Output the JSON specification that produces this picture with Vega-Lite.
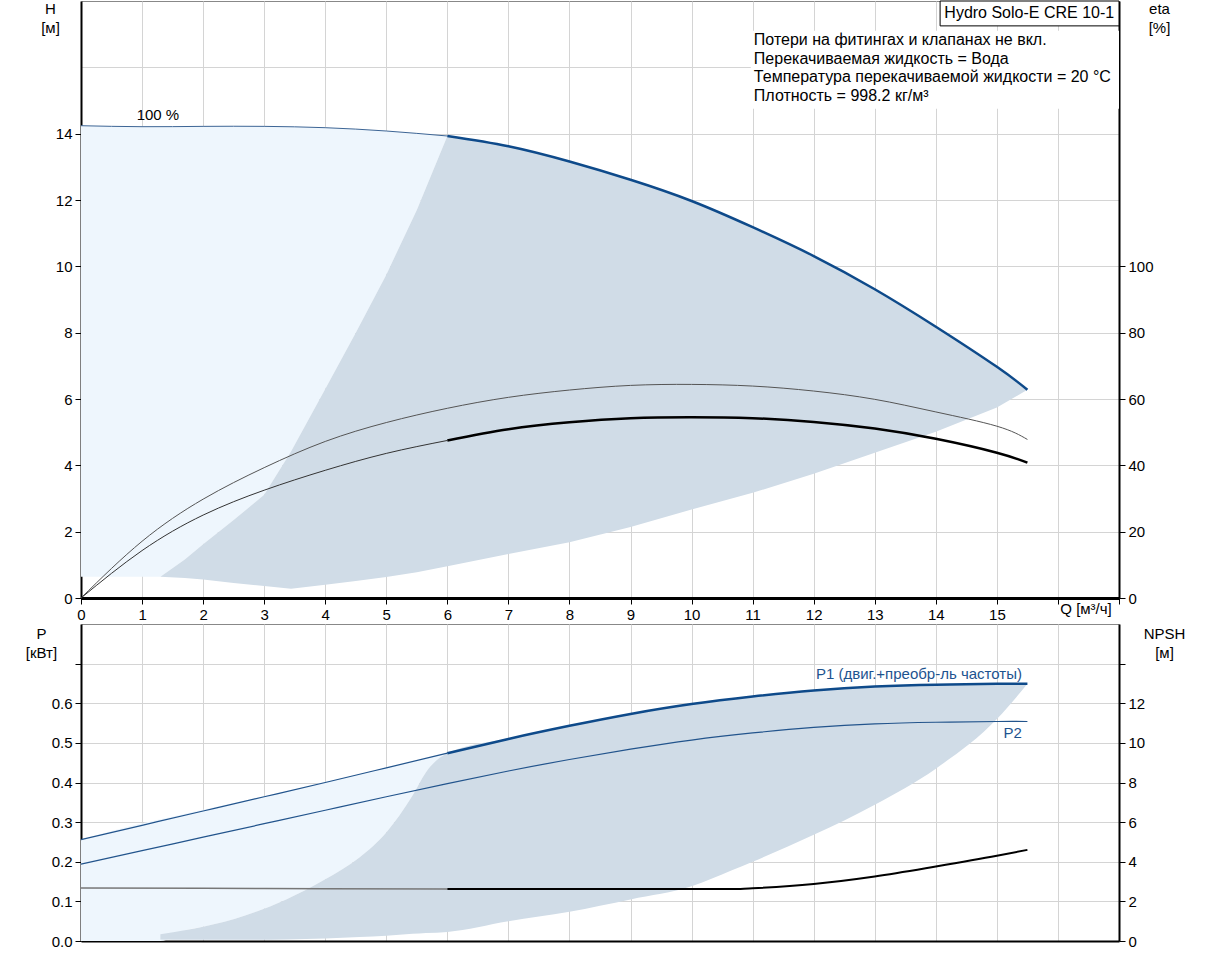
{
  "$schema": "https://vega.github.io/schema/vega-lite/v6.json",
  "description": "Hydro Solo-E CRE 10-1 pump curves",
  "background": "white",
  "padding": {"left": 24, "top": 0, "right": 0, "bottom": 0},
  "spacing": 0,
  "datasets": {
    "hArea": [
      {"s": "light", "Q": 0, "top": 14.24, "bot": 0.64},
      {"s": "light", "Q": 1, "top": 14.21, "bot": 0.64},
      {"s": "light", "Q": 1.3, "top": 14.21, "bot": 0.64},
      {"s": "light", "Q": 1.7, "top": 14.21, "bot": 1.16},
      {"s": "light", "Q": 2, "top": 14.22, "bot": 1.62},
      {"s": "light", "Q": 2.5, "top": 14.22, "bot": 2.35},
      {"s": "light", "Q": 3, "top": 14.22, "bot": 3.11},
      {"s": "light", "Q": 3.44, "top": 14.21, "bot": 4.42},
      {"s": "light", "Q": 4, "top": 14.18, "bot": 6.3},
      {"s": "light", "Q": 4.5, "top": 14.14, "bot": 8.0},
      {"s": "light", "Q": 5, "top": 14.08, "bot": 9.75},
      {"s": "light", "Q": 5.5, "top": 14.01, "bot": 11.7},
      {"s": "light", "Q": 6, "top": 13.93, "bot": 13.93},
      {"s": "dark", "Q": 1.3, "top": 0.64, "bot": 0.64},
      {"s": "dark", "Q": 1.7, "top": 1.16, "bot": 0.6},
      {"s": "dark", "Q": 2, "top": 1.62, "bot": 0.56},
      {"s": "dark", "Q": 2.5, "top": 2.35, "bot": 0.45},
      {"s": "dark", "Q": 3, "top": 3.11, "bot": 0.36},
      {"s": "dark", "Q": 3.44, "top": 4.42, "bot": 0.28},
      {"s": "dark", "Q": 4, "top": 6.3, "bot": 0.4},
      {"s": "dark", "Q": 4.5, "top": 8.0, "bot": 0.51},
      {"s": "dark", "Q": 5, "top": 9.75, "bot": 0.63},
      {"s": "dark", "Q": 5.5, "top": 11.7, "bot": 0.78},
      {"s": "dark", "Q": 6, "top": 13.93, "bot": 0.96},
      {"s": "dark", "Q": 7, "top": 13.62, "bot": 1.33},
      {"s": "dark", "Q": 8, "top": 13.16, "bot": 1.68},
      {"s": "dark", "Q": 9, "top": 12.61, "bot": 2.14},
      {"s": "dark", "Q": 10, "top": 11.97, "bot": 2.67},
      {"s": "dark", "Q": 11, "top": 11.18, "bot": 3.17},
      {"s": "dark", "Q": 12, "top": 10.31, "bot": 3.75},
      {"s": "dark", "Q": 13, "top": 9.31, "bot": 4.38},
      {"s": "dark", "Q": 14, "top": 8.18, "bot": 5.01},
      {"s": "dark", "Q": 15, "top": 6.97, "bot": 5.74},
      {"s": "dark", "Q": 15.5, "top": 6.28, "bot": 6.28}
    ],
    "hLine": [
      {"s": "thin", "Q": 0, "H": 14.24},
      {"s": "thin", "Q": 1, "H": 14.21},
      {"s": "thin", "Q": 2, "H": 14.22},
      {"s": "thin", "Q": 3, "H": 14.22},
      {"s": "thin", "Q": 4, "H": 14.18},
      {"s": "thin", "Q": 5, "H": 14.08},
      {"s": "thin", "Q": 6, "H": 13.93},
      {"s": "thick", "Q": 6, "H": 13.93},
      {"s": "thick", "Q": 7, "H": 13.62},
      {"s": "thick", "Q": 8, "H": 13.16},
      {"s": "thick", "Q": 9, "H": 12.61},
      {"s": "thick", "Q": 10, "H": 11.97},
      {"s": "thick", "Q": 11, "H": 11.18},
      {"s": "thick", "Q": 12, "H": 10.31},
      {"s": "thick", "Q": 13, "H": 9.31},
      {"s": "thick", "Q": 14, "H": 8.18},
      {"s": "thick", "Q": 15, "H": 6.97},
      {"s": "thick", "Q": 15.5, "H": 6.28}
    ],
    "etaLine": [
      {"s": "up", "Q": 0, "eta": 0},
      {"s": "up", "Q": 1, "eta": 17.1},
      {"s": "up", "Q": 2, "eta": 29.8},
      {"s": "up", "Q": 3, "eta": 39.3},
      {"s": "up", "Q": 4, "eta": 47.2},
      {"s": "up", "Q": 5, "eta": 52.9},
      {"s": "up", "Q": 6, "eta": 57.2},
      {"s": "up", "Q": 7, "eta": 60.5},
      {"s": "up", "Q": 8, "eta": 62.7},
      {"s": "up", "Q": 9, "eta": 64.1},
      {"s": "up", "Q": 10, "eta": 64.4},
      {"s": "up", "Q": 11, "eta": 63.9},
      {"s": "up", "Q": 12, "eta": 62.4},
      {"s": "up", "Q": 13, "eta": 59.9},
      {"s": "up", "Q": 14, "eta": 56.1},
      {"s": "up", "Q": 15, "eta": 51.8},
      {"s": "up", "Q": 15.5, "eta": 47.8},
      {"s": "lowThin", "Q": 0, "eta": 0},
      {"s": "lowThin", "Q": 1, "eta": 14.3},
      {"s": "lowThin", "Q": 2, "eta": 25.0},
      {"s": "lowThin", "Q": 3, "eta": 32.5},
      {"s": "lowThin", "Q": 4, "eta": 38.5},
      {"s": "lowThin", "Q": 5, "eta": 43.6},
      {"s": "lowThin", "Q": 6, "eta": 47.5},
      {"s": "lowThick", "Q": 6, "eta": 47.5},
      {"s": "lowThick", "Q": 7, "eta": 50.9},
      {"s": "lowThick", "Q": 8, "eta": 53.0},
      {"s": "lowThick", "Q": 9, "eta": 54.2},
      {"s": "lowThick", "Q": 10, "eta": 54.5},
      {"s": "lowThick", "Q": 11, "eta": 54.2},
      {"s": "lowThick", "Q": 12, "eta": 53.1},
      {"s": "lowThick", "Q": 13, "eta": 51.1},
      {"s": "lowThick", "Q": 14, "eta": 48.0},
      {"s": "lowThick", "Q": 15, "eta": 43.8},
      {"s": "lowThick", "Q": 15.5, "eta": 40.8}
    ],
    "pArea": [
      {"s": "light", "Q": 0, "top": 0.256, "bot": 0},
      {"s": "light", "Q": 1, "top": 0.297, "bot": 0},
      {"s": "light", "Q": 1.3, "top": 0.307, "bot": 0},
      {"s": "light", "Q": 1.72, "top": 0.322, "bot": 0.028},
      {"s": "light", "Q": 2, "top": 0.331, "bot": 0.036},
      {"s": "light", "Q": 2.7, "top": 0.355, "bot": 0.065},
      {"s": "light", "Q": 3.36, "top": 0.378, "bot": 0.105},
      {"s": "light", "Q": 4, "top": 0.401, "bot": 0.156},
      {"s": "light", "Q": 4.56, "top": 0.421, "bot": 0.211},
      {"s": "light", "Q": 5, "top": 0.437, "bot": 0.274},
      {"s": "light", "Q": 5.43, "top": 0.453, "bot": 0.367},
      {"s": "light", "Q": 5.65, "top": 0.461, "bot": 0.426},
      {"s": "light", "Q": 6, "top": 0.474, "bot": 0.474},
      {"s": "dark", "Q": 1.3, "top": 0.017, "bot": 0.004},
      {"s": "dark", "Q": 1.72, "top": 0.028, "bot": 0.003},
      {"s": "dark", "Q": 2, "top": 0.036, "bot": 0.003},
      {"s": "dark", "Q": 2.7, "top": 0.065, "bot": 0.003},
      {"s": "dark", "Q": 3.36, "top": 0.105, "bot": 0.004},
      {"s": "dark", "Q": 4, "top": 0.156, "bot": 0.006},
      {"s": "dark", "Q": 4.56, "top": 0.211, "bot": 0.01},
      {"s": "dark", "Q": 5, "top": 0.274, "bot": 0.013},
      {"s": "dark", "Q": 5.43, "top": 0.367, "bot": 0.018},
      {"s": "dark", "Q": 5.65, "top": 0.426, "bot": 0.02},
      {"s": "dark", "Q": 6, "top": 0.474, "bot": 0.023},
      {"s": "dark", "Q": 7, "top": 0.511, "bot": 0.05},
      {"s": "dark", "Q": 8, "top": 0.543, "bot": 0.074},
      {"s": "dark", "Q": 9, "top": 0.573, "bot": 0.105},
      {"s": "dark", "Q": 10, "top": 0.598, "bot": 0.138},
      {"s": "dark", "Q": 10.65, "top": 0.61, "bot": 0.178},
      {"s": "dark", "Q": 11, "top": 0.617, "bot": 0.2},
      {"s": "dark", "Q": 12, "top": 0.632, "bot": 0.268},
      {"s": "dark", "Q": 13, "top": 0.642, "bot": 0.344},
      {"s": "dark", "Q": 14, "top": 0.647, "bot": 0.435},
      {"s": "dark", "Q": 15, "top": 0.649, "bot": 0.56},
      {"s": "dark", "Q": 15.5, "top": 0.649, "bot": 0.649}
    ],
    "pLine": [
      {"s": "p1Thin", "Q": 0, "P": 0.256},
      {"s": "p1Thin", "Q": 1, "P": 0.292},
      {"s": "p1Thin", "Q": 2, "P": 0.328},
      {"s": "p1Thin", "Q": 3, "P": 0.364},
      {"s": "p1Thin", "Q": 4, "P": 0.4},
      {"s": "p1Thin", "Q": 5, "P": 0.437},
      {"s": "p1Thin", "Q": 6, "P": 0.474},
      {"s": "p1Thick", "Q": 6, "P": 0.474},
      {"s": "p1Thick", "Q": 7, "P": 0.51},
      {"s": "p1Thick", "Q": 8, "P": 0.543},
      {"s": "p1Thick", "Q": 9, "P": 0.573},
      {"s": "p1Thick", "Q": 10, "P": 0.598},
      {"s": "p1Thick", "Q": 11, "P": 0.617},
      {"s": "p1Thick", "Q": 12, "P": 0.632},
      {"s": "p1Thick", "Q": 13, "P": 0.642},
      {"s": "p1Thick", "Q": 14, "P": 0.647},
      {"s": "p1Thick", "Q": 15, "P": 0.649},
      {"s": "p1Thick", "Q": 15.5, "P": 0.649},
      {"s": "p2", "Q": 0, "P": 0.194},
      {"s": "p2", "Q": 1, "P": 0.228},
      {"s": "p2", "Q": 2, "P": 0.262},
      {"s": "p2", "Q": 3, "P": 0.296},
      {"s": "p2", "Q": 4, "P": 0.33},
      {"s": "p2", "Q": 5, "P": 0.364},
      {"s": "p2", "Q": 6, "P": 0.397},
      {"s": "p2", "Q": 7, "P": 0.429},
      {"s": "p2", "Q": 8, "P": 0.458},
      {"s": "p2", "Q": 9, "P": 0.484},
      {"s": "p2", "Q": 10, "P": 0.507},
      {"s": "p2", "Q": 11, "P": 0.525},
      {"s": "p2", "Q": 12, "P": 0.539},
      {"s": "p2", "Q": 13, "P": 0.548},
      {"s": "p2", "Q": 14, "P": 0.552},
      {"s": "p2", "Q": 15, "P": 0.554},
      {"s": "p2", "Q": 15.5, "P": 0.554}
    ],
    "npshLine": [
      {"s": "thin", "Q": 0, "NPSH": 2.68},
      {"s": "thin", "Q": 2, "NPSH": 2.66},
      {"s": "thin", "Q": 4, "NPSH": 2.64},
      {"s": "thin", "Q": 6, "NPSH": 2.62},
      {"s": "thick", "Q": 6, "NPSH": 2.62},
      {"s": "thick", "Q": 8, "NPSH": 2.62},
      {"s": "thick", "Q": 10, "NPSH": 2.62},
      {"s": "thick", "Q": 10.8, "NPSH": 2.63},
      {"s": "thick", "Q": 11, "NPSH": 2.66},
      {"s": "thick", "Q": 12, "NPSH": 2.88},
      {"s": "thick", "Q": 13, "NPSH": 3.26},
      {"s": "thick", "Q": 14, "NPSH": 3.76},
      {"s": "thick", "Q": 15, "NPSH": 4.3},
      {"s": "thick", "Q": 15.5, "NPSH": 4.6}
    ],
    "one": [{"info": ["Потери на фитингах и клапанах не вкл.", "Перекачиваемая жидкость = Вода", "Температура перекачиваемой жидкости = 20 °C", "Плотность = 998.2 кг/м³"]}]
  },
  "vconcat": [
    {
      "width": 1038,
      "height": 597,
      "layer": [
        {
          "layer": [
            {
              "data": {"name": "hArea"},
              "transform": [{"filter": "datum.s == 'light'"}],
              "mark": {"type": "area", "color": "#eef6fd", "interpolate": "linear"},
              "encoding": {
                "x": {
                  "field": "Q", "type": "quantitative",
                  "scale": {"domain": [0, 17], "nice": false},
                  "axis": {
                    "values": [0, 1, 2, 3, 4, 5, 6, 7, 8, 9, 10, 11, 12, 13, 14, 15, 16, 17],
                    "format": "d",
                    "labelExpr": "datum.value > 15 ? '' : datum.label",
                    "domainWidth": 3, "title": null
                  }
                },
                "y": {
                  "field": "top", "type": "quantitative",
                  "scale": {"domain": [0, 18], "nice": false},
                  "axis": {
                    "values": [0, 2, 4, 6, 8, 10, 12, 14, 16],
                    "labelExpr": "datum.value > 15 ? '' : datum.label",
                    "tickOpacity": {"condition": {"test": "datum.value > 15", "value": 0}, "value": 1},
                    "title": ["H", "[м]"], "titleAngle": 0, "titleAlign": "center",
                    "titleBaseline": "top", "titleX": -31, "titleY": 0
                  }
                },
                "y2": {"field": "bot"}
              }
            },
            {
              "data": {"name": "hArea"},
              "transform": [{"filter": "datum.s == 'dark'"}],
              "mark": {"type": "area", "color": "#d0dce7", "interpolate": "linear"},
              "encoding": {
                "x": {"field": "Q", "type": "quantitative"},
                "y": {"field": "top", "type": "quantitative"},
                "y2": {"field": "bot"}
              }
            },
            {
              "data": {"name": "hLine"},
              "transform": [{"filter": "datum.s == 'thin'"}],
              "mark": {"type": "line", "color": "#3d6595", "strokeWidth": 1, "interpolate": "natural"},
              "encoding": {
                "x": {"field": "Q", "type": "quantitative"},
                "y": {"field": "H", "type": "quantitative"}
              }
            },
            {
              "data": {"name": "hLine"},
              "transform": [{"filter": "datum.s == 'thick'"}],
              "mark": {"type": "line", "color": "#0e4a8a", "strokeWidth": 2.5, "interpolate": "natural"},
              "encoding": {
                "x": {"field": "Q", "type": "quantitative"},
                "y": {"field": "H", "type": "quantitative"}
              }
            },
            {
              "data": {"name": "one"},
              "mark": {"type": "rect", "fill": "white"},
              "encoding": {
                "x": {"datum": 10.97, "type": "quantitative"},
                "x2": {"datum": 17},
                "y": {"datum": 14.75, "type": "quantitative"},
                "y2": {"datum": 17.1}
              }
            },
            {
              "data": {"name": "one"},
              "mark": {"type": "rect", "fill": "white", "stroke": "#000", "strokeWidth": 1},
              "encoding": {
                "x": {"datum": 14.07, "type": "quantitative"},
                "x2": {"datum": 17},
                "y": {"datum": 17.25, "type": "quantitative"},
                "y2": {"datum": 18}
              }
            },
            {
              "data": {"name": "one"},
              "mark": {"type": "text", "text": "Hydro Solo-E CRE 10-1", "fontSize": 16, "align": "center", "baseline": "middle", "color": "#000"},
              "encoding": {
                "x": {"datum": 15.53, "type": "quantitative"},
                "y": {"datum": 17.64, "type": "quantitative"}
              }
            },
            {
              "data": {"name": "one"},
              "mark": {"type": "text", "fontSize": 16, "align": "left", "baseline": "top", "lineHeight": 18.7, "color": "#000"},
              "encoding": {
                "x": {"datum": 11.02, "type": "quantitative"},
                "y": {"datum": 17.07, "type": "quantitative"},
                "text": {"field": "info"}
              }
            },
            {
              "data": {"name": "one"},
              "mark": {"type": "text", "text": "100 %", "fontSize": 15, "align": "center", "baseline": "middle", "color": "#000"},
              "encoding": {
                "x": {"datum": 1.26, "type": "quantitative"},
                "y": {"datum": 14.57, "type": "quantitative"}
              }
            },
            {
              "data": {"name": "one"},
              "mark": {"type": "text", "text": "Q [м³/ч]", "fontSize": 15, "align": "center", "baseline": "middle", "dy": 11, "color": "#000"},
              "encoding": {
                "x": {"datum": 16.46, "type": "quantitative"},
                "y": {"datum": 0, "type": "quantitative"}
              }
            }
          ]
        },
        {
          "data": {"name": "etaLine"},
          "layer": [
            {
              "transform": [{"filter": "datum.s == 'up'"}],
              "mark": {"type": "line", "color": "#555555", "strokeWidth": 1, "interpolate": "natural"},
              "encoding": {
                "x": {"field": "Q", "type": "quantitative"},
                "y": {
                  "field": "eta", "type": "quantitative",
                  "scale": {"domain": [0, 180], "nice": false},
                  "axis": {
                    "orient": "right", "grid": false,
                    "values": [0, 20, 40, 60, 80, 100],
                    "title": ["eta", "[%]"], "titleAngle": 0, "titleAlign": "center",
                    "titleBaseline": "top", "titleX": 40, "titleY": 0
                  }
                }
              }
            },
            {
              "transform": [{"filter": "datum.s == 'lowThin'"}],
              "mark": {"type": "line", "color": "#333333", "strokeWidth": 1, "interpolate": "natural"},
              "encoding": {
                "x": {"field": "Q", "type": "quantitative"},
                "y": {"field": "eta", "type": "quantitative"}
              }
            },
            {
              "transform": [{"filter": "datum.s == 'lowThick'"}],
              "mark": {"type": "line", "color": "#000000", "strokeWidth": 2.5, "interpolate": "natural"},
              "encoding": {
                "x": {"field": "Q", "type": "quantitative"},
                "y": {"field": "eta", "type": "quantitative"}
              }
            }
          ]
        }
      ],
      "resolve": {"scale": {"y": "independent"}}
    },
    {
      "width": 1038,
      "height": 317,
      "layer": [
        {
          "layer": [
            {
              "data": {"name": "pArea"},
              "transform": [{"filter": "datum.s == 'light'"}],
              "mark": {"type": "area", "color": "#eef6fd", "interpolate": "monotone"},
              "encoding": {
                "x": {
                  "field": "Q", "type": "quantitative",
                  "scale": {"domain": [0, 17], "nice": false},
                  "axis": {
                    "values": [0, 1, 2, 3, 4, 5, 6, 7, 8, 9, 10, 11, 12, 13, 14, 15, 16, 17],
                    "labels": false, "ticks": false, "title": null
                  }
                },
                "y": {
                  "field": "top", "type": "quantitative",
                  "scale": {"domain": [0, 0.8], "nice": false},
                  "axis": {
                    "values": [0, 0.1, 0.2, 0.3, 0.4, 0.5, 0.6, 0.7],
                    "format": ".1f",
                    "labelExpr": "datum.value > 0.65 ? '' : datum.label",
                    "title": ["P", "[кВт]"], "titleAngle": 0, "titleAlign": "center",
                    "titleBaseline": "top", "titleX": -40, "titleY": 2
                  }
                },
                "y2": {"field": "bot"}
              }
            },
            {
              "data": {"name": "pArea"},
              "transform": [{"filter": "datum.s == 'dark'"}],
              "mark": {"type": "area", "color": "#d0dce7", "interpolate": "monotone"},
              "encoding": {
                "x": {"field": "Q", "type": "quantitative"},
                "y": {"field": "top", "type": "quantitative"},
                "y2": {"field": "bot"}
              }
            },
            {
              "data": {"name": "pLine"},
              "transform": [{"filter": "datum.s == 'p2'"}],
              "mark": {"type": "line", "color": "#22548c", "strokeWidth": 1.2, "interpolate": "natural"},
              "encoding": {
                "x": {"field": "Q", "type": "quantitative"},
                "y": {"field": "P", "type": "quantitative"}
              }
            },
            {
              "data": {"name": "pLine"},
              "transform": [{"filter": "datum.s == 'p1Thin'"}],
              "mark": {"type": "line", "color": "#22548c", "strokeWidth": 1.2, "interpolate": "natural"},
              "encoding": {
                "x": {"field": "Q", "type": "quantitative"},
                "y": {"field": "P", "type": "quantitative"}
              }
            },
            {
              "data": {"name": "pLine"},
              "transform": [{"filter": "datum.s == 'p1Thick'"}],
              "mark": {"type": "line", "color": "#0e4a8a", "strokeWidth": 2.5, "interpolate": "natural"},
              "encoding": {
                "x": {"field": "Q", "type": "quantitative"},
                "y": {"field": "P", "type": "quantitative"}
              }
            },
            {
              "data": {"name": "one"},
              "mark": {"type": "text", "text": "P1 (двиг.+преобр-ль частоты)", "fontSize": 15, "align": "right", "baseline": "middle", "color": "#1d538f"},
              "encoding": {
                "x": {"datum": 15.41, "type": "quantitative"},
                "y": {"datum": 0.675, "type": "quantitative"}
              }
            },
            {
              "data": {"name": "one"},
              "mark": {"type": "text", "text": "P2", "fontSize": 15, "align": "right", "baseline": "middle", "color": "#1d538f"},
              "encoding": {
                "x": {"datum": 15.41, "type": "quantitative"},
                "y": {"datum": 0.526, "type": "quantitative"}
              }
            }
          ]
        },
        {
          "data": {"name": "npshLine"},
          "layer": [
            {
              "transform": [{"filter": "datum.s == 'thin'"}],
              "mark": {"type": "line", "color": "#777777", "strokeWidth": 1.5, "interpolate": "monotone"},
              "encoding": {
                "x": {"field": "Q", "type": "quantitative"},
                "y": {
                  "field": "NPSH", "type": "quantitative",
                  "scale": {"domain": [0, 16], "nice": false},
                  "axis": {
                    "orient": "right", "grid": false,
                    "values": [0, 2, 4, 6, 8, 10, 12, 14],
                    "labelExpr": "datum.value > 13 ? '' : datum.label",
                    "title": ["NPSH", "[м]"], "titleAngle": 0, "titleAlign": "center",
                    "titleBaseline": "top", "titleX": 45, "titleY": 2
                  }
                }
              }
            },
            {
              "transform": [{"filter": "datum.s == 'thick'"}],
              "mark": {"type": "line", "color": "#000000", "strokeWidth": 2, "interpolate": "monotone"},
              "encoding": {
                "x": {"field": "Q", "type": "quantitative"},
                "y": {"field": "NPSH", "type": "quantitative"}
              }
            }
          ]
        }
      ],
      "resolve": {"scale": {"y": "independent"}}
    }
  ],
  "config": {
    "font": "Liberation Sans",
    "view": {"stroke": "#888888", "strokeWidth": 1},
    "text": {"font": "Liberation Sans"},
    "axis": {
      "labelFont": "Liberation Sans",
      "titleFont": "Liberation Sans",
      "labelFontSize": 15,
      "titleFontSize": 15,
      "titleFontWeight": "normal",
      "titleLineHeight": 19,
      "labelColor": "#000000",
      "titleColor": "#000000",
      "domainColor": "#000000",
      "domainWidth": 2,
      "tickColor": "#000000",
      "tickSize": 6,
      "tickWidth": 1,
      "gridColor": "#d4d4d4",
      "gridWidth": 1,
      "labelFlush": false,
      "labelOverlap": false,
      "labelPadding": 3
    }
  }
}
